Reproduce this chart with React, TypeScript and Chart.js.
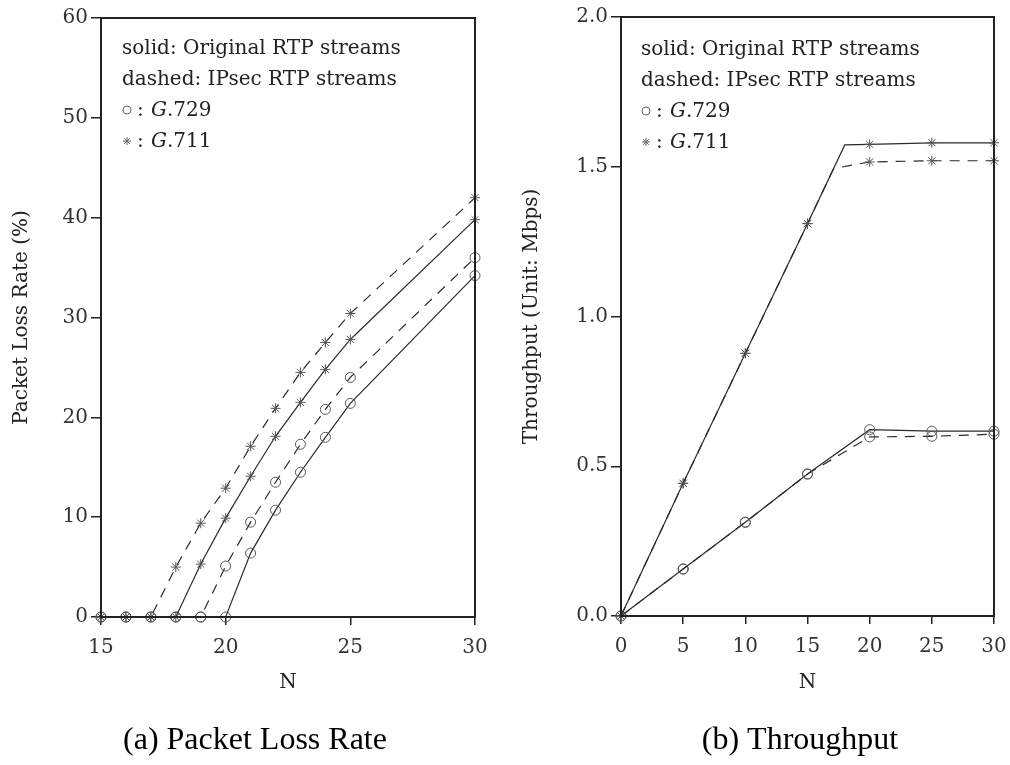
import React, { useEffect, useRef } from "react";
import { Chart, registerables } from "chart.js";
Chart.register(...registerables);

// ---- (a) Packet loss rate ----
const lossN = [15, 16, 17, 18, 19, 20, 21, 22, 23, 24, 25, 30];
const lossG711Orig = [0, 0, 0, 0, 5.3, 9.9, 14.1, 18.1, 21.5, 24.8, 27.8, 39.8];
const lossG711Ipsec = [0, 0, 0, 5.0, 9.4, 12.9, 17.1, 20.9, 24.5, 27.5, 30.4, 42.0];
const lossG729Orig = [0, 0, 0, 0, 0, 0, 6.4, 10.7, 14.5, 18.0, 21.4, 34.2];
const lossG729Ipsec = [0, 0, 0, 0, 0, 5.1, 9.5, 13.5, 17.3, 20.8, 24.0, 36.0];

// ---- (b) Throughput ----
const thrG711OrigN = [0, 5, 10, 15, 18, 20, 25, 30];
const thrG711Orig = [0, 0.443, 0.877, 1.31, 1.573, 1.575, 1.58, 1.58];
const thrG711IpsecN = [0, 5, 10, 15, 17.1, 20, 25, 30];
const thrG711Ipsec = [0, 0.443, 0.877, 1.31, 1.494, 1.516, 1.52, 1.52];
const thrG729N = [0, 5, 10, 15, 20, 25, 30];
const thrG729Orig = [0, 0.157, 0.313, 0.474, 0.622, 0.617, 0.617];
const thrG729Ipsec = [0, 0.157, 0.313, 0.474, 0.598, 0.6, 0.607];

const legendLines = ["solid: Original RTP streams", "dashed: IPsec RTP streams"];
const codecLabels = [".729", ".711"];

const LINE = "#2a2a2a";
const MARK = "#555";
const SERIF = '"DejaVu Serif", serif';

function ds(ns: number[], vals: number[], star: boolean, dashed: boolean, markedStep: number) {
  return {
    data: ns.map((x, i) => ({ x, y: vals[i] })),
    borderColor: LINE,
    borderWidth: 1.2,
    borderDash: dashed ? [10, 8] : [],
    pointStyle: star ? "star" : "circle",
    pointRadius: ns.map((n) => (n % markedStep === 0 ? 5 : 0)),
    pointBorderColor: MARK,
    pointBackgroundColor: "rgba(0,0,0,0)",
    pointBorderWidth: 1,
    fill: false,
    tension: 0,
    clip: false as any,
  };
}

function axes(o: any) {
  const tickFont = { family: SERIF, size: 20 };
  return {
    x: {
      type: "linear",
      min: o.xMin,
      max: o.xMax,
      ticks: { stepSize: o.xStep, font: tickFont, color: "#333", padding: 11, maxRotation: 0, autoSkip: false },
      grid: { drawOnChartArea: false, drawTicks: true, tickLength: 8, color: "#222", lineWidth: 1.5 },
      border: { display: true, color: "#222", width: 2 },
      afterFit: (s: any) => {
        s.height = o.xHeight;
      },
    },
    y: {
      type: "linear",
      min: o.yMin,
      max: o.yMax,
      ticks: {
        stepSize: o.yStep,
        font: tickFont,
        color: "#333",
        padding: 3,
        callback: o.yFmt,
      },
      grid: { drawOnChartArea: false, drawTicks: true, tickLength: 10, color: "#222", lineWidth: 1.5 },
      border: { display: true, color: "#222", width: 2 },
      afterFit: (s: any) => {
        s.width = o.yWidth;
      },
    },
  };
}

function drawStar(ctx: CanvasRenderingContext2D, x: number, y: number, r: number) {
  ctx.beginPath();
  for (let k = 0; k < 4; k++) {
    const a = (k * Math.PI) / 4;
    ctx.moveTo(x - r * Math.cos(a), y - r * Math.sin(a));
    ctx.lineTo(x + r * Math.cos(a), y + r * Math.sin(a));
  }
  ctx.stroke();
}

const decorPlugin = {
  id: "decor",
  afterDraw(chart: any, _args: any, opts: any) {
    const ctx: CanvasRenderingContext2D = chart.ctx;
    const { left, top, right, bottom } = chart.chartArea;
    ctx.save();
    // frame
    ctx.strokeStyle = "#222";
    ctx.lineWidth = 2;
    ctx.strokeRect(left, top, right - left, bottom - top);

    // legend text
    ctx.fillStyle = "#222";
    ctx.textBaseline = "alphabetic";
    ctx.textAlign = "left";
    ctx.font = `20px ${SERIF}`;
    const lx = opts.lx;
    const ly = opts.ly;
    const gap = 31;
    ctx.fillText(legendLines[0], lx, ly);
    ctx.fillText(legendLines[1], lx, ly + gap);
    for (let k = 0; k < 2; k++) {
      const by = ly + gap * (2 + k);
      ctx.strokeStyle = "#666";
      ctx.lineWidth = 1;
      if (k === 0) {
        ctx.beginPath();
        ctx.arc(lx + 5, by - 6, 4, 0, Math.PI * 2);
        ctx.stroke();
      } else {
        drawStar(ctx, lx + 5, by - 6, 4);
      }
      ctx.font = `20px ${SERIF}`;
      ctx.fillText(":", lx + 15, by);
      ctx.font = `italic 20px ${SERIF}`;
      ctx.fillText("G", lx + 29, by);
      const gw = ctx.measureText("G").width;
      ctx.font = `20px ${SERIF}`;
      ctx.fillText(codecLabels[k], lx + 29 + gw, by);
    }

    // axis titles
    ctx.fillStyle = "#222";
    ctx.font = `20px ${SERIF}`;
    ctx.textAlign = "center";
    ctx.textBaseline = "middle";
    ctx.fillText("N", (left + right) / 2, 683);
    ctx.save();
    ctx.translate(opts.ytx, (top + bottom) / 2);
    ctx.rotate(-Math.PI / 2);
    ctx.fillText(opts.yTitle, 0, 0);
    ctx.restore();

    // caption
    ctx.fillStyle = "#000";
    ctx.font = `32px "Liberation Serif", serif`;
    ctx.textAlign = "center";
    ctx.textBaseline = "alphabetic";
    ctx.fillText(opts.caption, opts.capX, 749);
    ctx.restore();
  },
};

export default function App() {
  const leftRef = useRef<HTMLCanvasElement>(null);
  const rightRef = useRef<HTMLCanvasElement>(null);

  useEffect(() => {
    const common = {
      responsive: false,
      maintainAspectRatio: false,
      devicePixelRatio: 1,
      animation: false,
      events: [],
    };
    const left = new Chart(leftRef.current!, {
      type: "line",
      data: {
        datasets: [
          ds(lossN, lossG711Ipsec, true, true, 1),
          ds(lossN, lossG711Orig, true, false, 1),
          ds(lossN, lossG729Ipsec, false, true, 1),
          ds(lossN, lossG729Orig, false, false, 1),
        ] as any,
      },
      options: {
        ...common,
        layout: { padding: { left: 0, top: 18, right: 30, bottom: 0 } },
        scales: axes({
          xMin: 15, xMax: 30, xStep: 5, yMin: 0, yMax: 60, yStep: 10,
          yWidth: 101, xHeight: 148, yFmt: (v: any) => String(v),
        }) as any,
        plugins: {
          legend: { display: false },
          tooltip: { enabled: false },
          decor: {
            lx: 122, ly: 54, ytx: 22, yTitle: "Packet Loss Rate (%)",
            caption: "(a) Packet Loss Rate", capX: 255,
          },
        } as any,
      } as any,
      plugins: [decorPlugin],
    });
    const right = new Chart(rightRef.current!, {
      type: "line",
      data: {
        datasets: [
          ds(thrG711IpsecN, thrG711Ipsec, true, true, 5),
          ds(thrG711OrigN, thrG711Orig, true, false, 5),
          ds(thrG729N, thrG729Ipsec, false, true, 5),
          ds(thrG729N, thrG729Orig, false, false, 5),
        ] as any,
      },
      options: {
        ...common,
        layout: { padding: { left: 0, top: 17, right: 31, bottom: 0 } },
        scales: axes({
          xMin: 0, xMax: 30, xStep: 5, yMin: 0, yMax: 2, yStep: 0.5,
          yWidth: 116, xHeight: 149, yFmt: (v: any) => Number(v).toFixed(1),
        }) as any,
        plugins: {
          legend: { display: false },
          tooltip: { enabled: false },
          decor: {
            lx: 136, ly: 55, ytx: 27, yTitle: "Throughput (Unit: Mbps)",
            caption: "(b) Throughput", capX: 295,
          },
        } as any,
      } as any,
      plugins: [decorPlugin],
    });
    return () => {
      left.destroy();
      right.destroy();
    };
  }, []);

  return (
    <div style={{ position: "absolute", left: 0, top: 0, width: 1010, height: 765, background: "#fff", overflow: "hidden" }}>
      <canvas ref={leftRef} width={505} height={765} style={{ position: "absolute", left: 0, top: 0, width: 505, height: 765 }} />
      <canvas ref={rightRef} width={520} height={765} style={{ position: "absolute", left: 505, top: 0, width: 520, height: 765 }} />
    </div>
  );
}
